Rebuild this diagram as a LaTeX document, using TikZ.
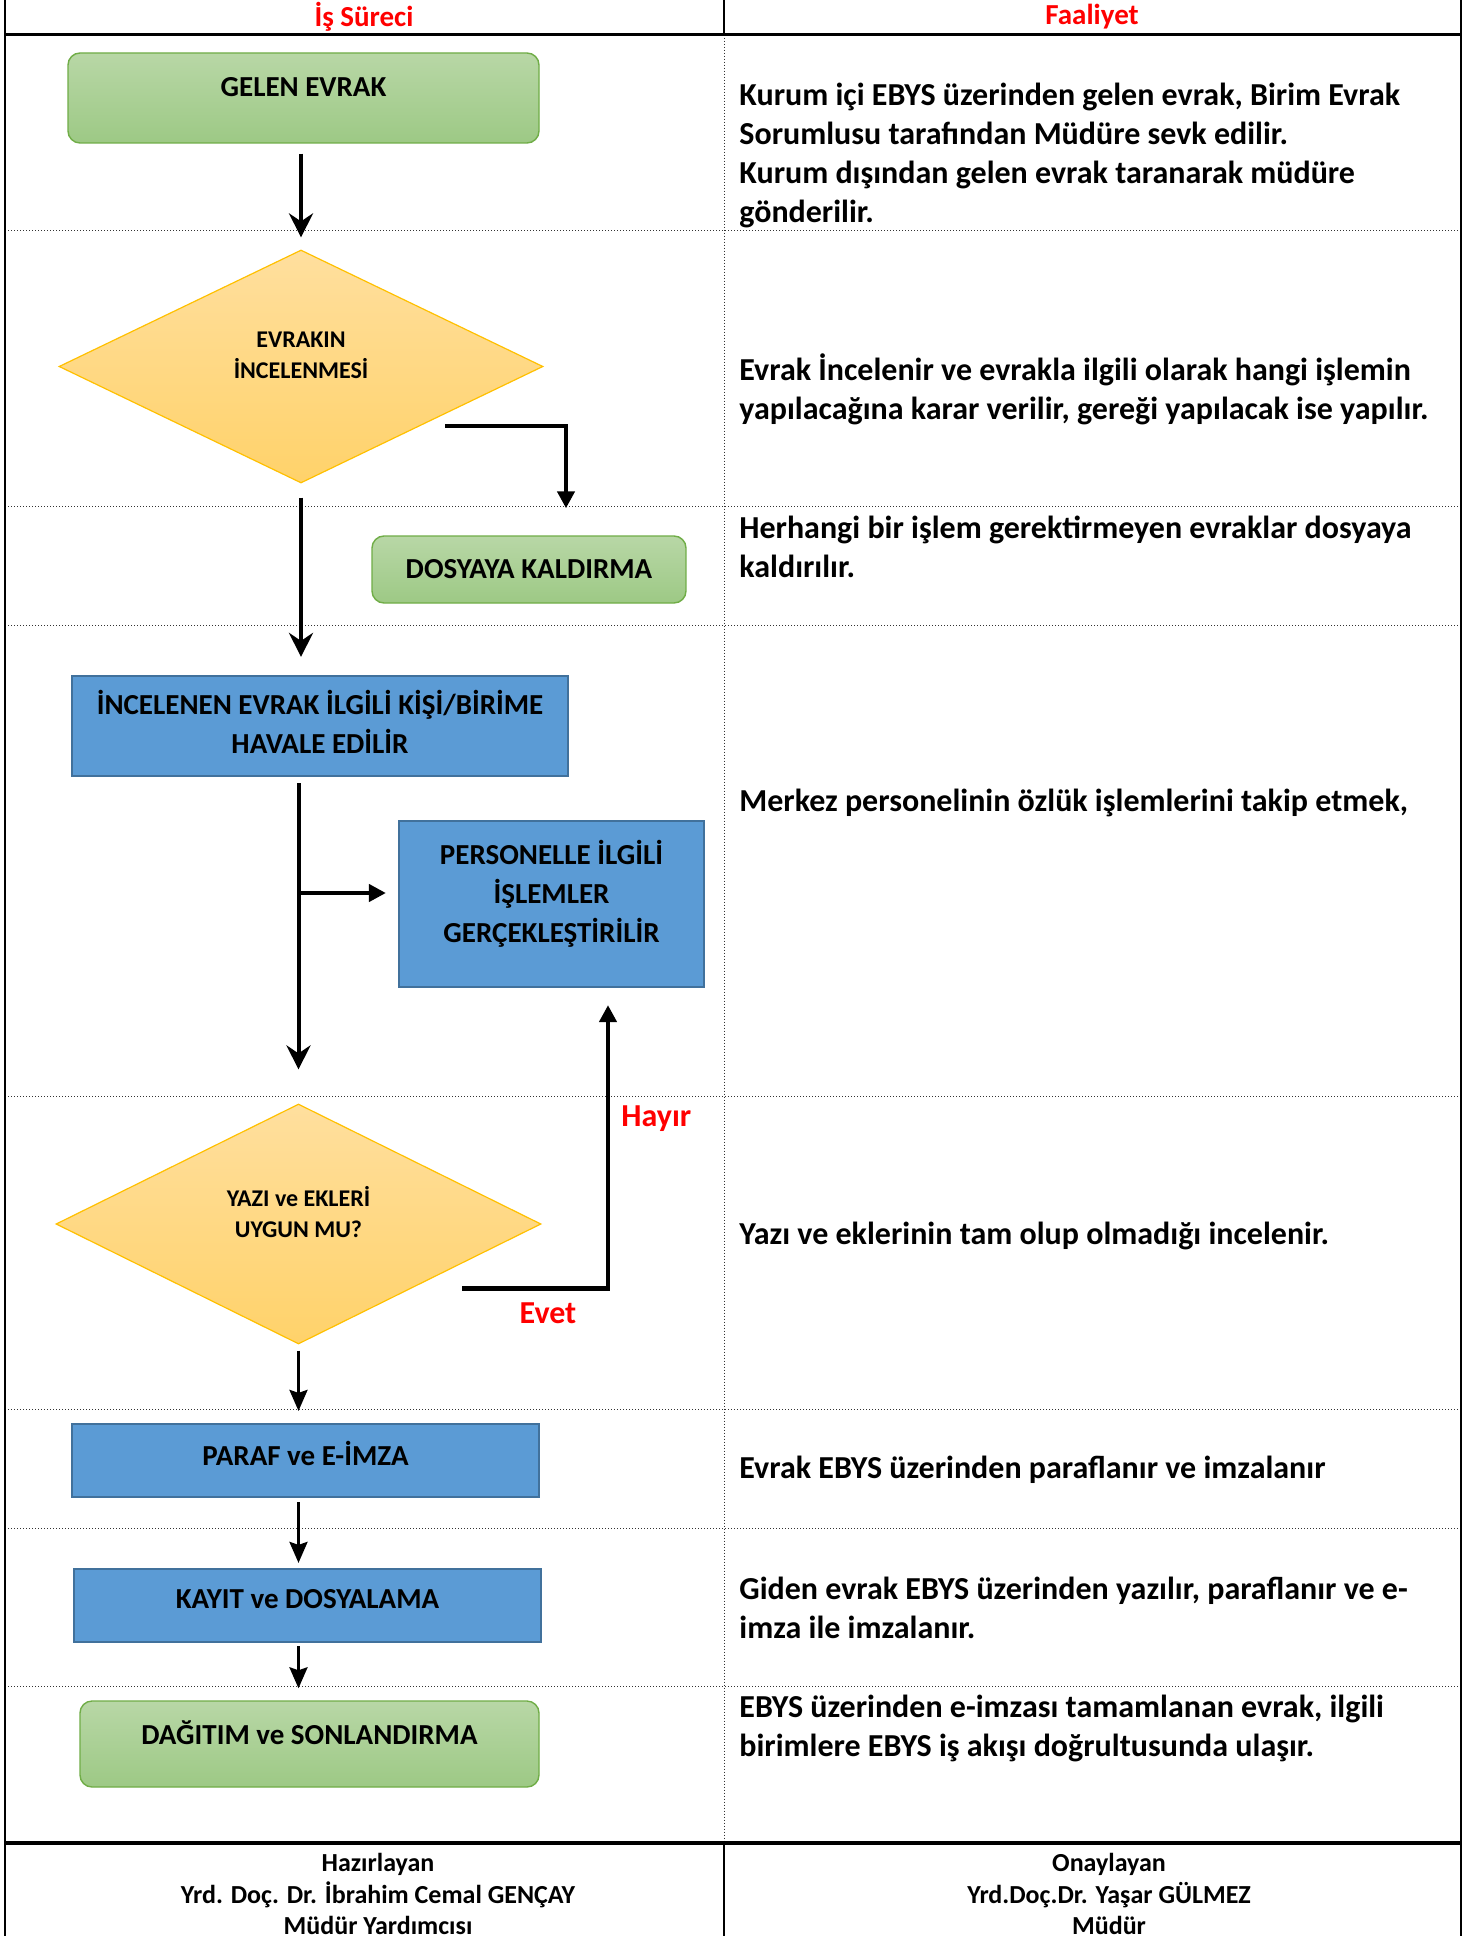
\documentclass[tikz,border=0pt]{standalone}
\usepackage{fontspec}
\setmainfont{Carlito}
\usetikzlibrary{shapes.geometric,arrows.meta,calc}
\definecolor{greentop}{RGB}{184,215,166}
\definecolor{greenbot}{RGB}{157,201,133}
\definecolor{greenline}{RGB}{112,173,71}
\definecolor{goldtop}{RGB}{255,223,158}
\definecolor{goldbot}{RGB}{255,210,106}
\definecolor{goldline}{RGB}{255,192,0}
\definecolor{boxblue}{RGB}{91,155,213}
\definecolor{blueline}{RGB}{65,113,156}
\definecolor{labelred}{RGB}{255,0,0}

\begin{document}
\begin{tikzpicture}
	[x=1pt,y=-1pt%
	,frame/.style={line width=1.2pt}%
	,sepline/.style={densely dotted,line width=0.5pt,black!80}%
	,greenbox/.style={rounded corners=6pt,%
		top color=greentop,bottom color=greenbot,%
		draw=greenline,line width=0.7pt,inner sep=0pt,%
		font=\fontsize{14.5}{19.5}\selectfont\bfseries}%
	,bluebox/.style={fill=boxblue,draw=blueline,line width=1.1pt,%
		inner sep=0pt,align=center,%
		font=\fontsize{14.5}{19.5}\selectfont\bfseries}%
	,decision/.style={diamond,top color=goldtop,bottom color=goldbot,%
		draw=goldline,line width=0.6pt,inner sep=0pt}%
	,boxtext/.style={inner sep=0pt,align=center,%
		font=\fontsize{14.5}{19.5}\selectfont\bfseries}%
	,decisiontext/.style={inner sep=0pt,align=center,%
		font=\fontsize{12}{15.5}\selectfont\bfseries}%
	,headtext/.style={inner sep=0pt,text=labelred,%
		font=\fontsize{14.5}{17}\selectfont\bfseries}%
	,redlabel/.style={inner sep=0pt,text=labelred,%
		font=\fontsize{16}{19.5}\selectfont\bfseries}%
	,desc/.style={anchor=west,align=left,inner sep=0pt,%
		font=\fontsize{16}{19.5}\selectfont\bfseries}%
	,foot/.style={align=center,inner sep=0pt,%
		font=\fontsize{13}{15.75}\selectfont\bfseries}%
	,mainarrow/.style={line width=2pt,-{Stealth[length=12pt,width=12pt,inset=4pt]}}%
	,elbowarrow/.style={line width=2.2pt,-{Triangle[length=8.5pt,width=8.5pt]}}%
	,smallarrow/.style={line width=1.5pt,-{Stealth[length=10.5pt,width=9pt,inset=1.5pt]}}]
	% page and table
	\fill[white] (0,0) rectangle (740.5,968);
	\useasboundingbox (0,0) rectangle (740.5,968);
	\draw[sepline] (362,17.3) -- (362,921.5);
	\draw[sepline] (2.5,115.5) -- (730.5,115.5)
		(2.5,253) -- (730.5,253)
		(2.5,312.5) -- (730.5,312.5)
		(2.5,548) -- (730.5,548)
		(2.5,704.5) -- (730.5,704.5)
		(2.5,764) -- (730.5,764)
		(2.5,843) -- (730.5,843);
	\draw[frame] (2.5,0) -- (2.5,968);
	\draw[frame] (730.5,0) -- (730.5,968);
	\draw[frame] (2.5,17.3) -- (730.5,17.3);
	\draw[frame] (362,0) -- (362,17.3);
	\draw[frame,line width=1.8pt] (2.5,921.5) -- (730.5,921.5);
	\draw[frame] (362,921.5) -- (362,968);
	\node[headtext] (surec) at (182,8.5) {İş Süreci};
	\node[headtext] (faaliyet) at (546,8.5) {Faaliyet};
	% flow
	\node[greenbox,minimum width=235.5pt,minimum height=45pt] (gelen) at (151.75,49) {};
	\node[boxtext] (gelen-t) at ([yshift=5.5pt]gelen.center) {GELEN EVRAK};
	\node[decision,minimum width=242pt,minimum height=116.5pt] (evrakin) at (150.5,183.25) {};
	\node[decisiontext] (evrakin-t) at ([yshift=5.5pt]evrakin.center) {EVRAKIN\\İNCELENMESİ};
	\node[greenbox,minimum width=157pt,minimum height=33.5pt] (dosya) at (264.5,284.75) {DOSYAYA KALDIRMA};
	\node[bluebox,minimum width=248pt,minimum height=50pt] (incelenen) at (160,363) {};
	\node[boxtext] (incelenen-t) at ([yshift=2pt]incelenen.center) {İNCELENEN EVRAK İLGİLİ KİŞİ/BİRİME\\HAVALE EDİLİR};
	\node[bluebox,minimum width=152.5pt,minimum height=83pt] (personel) at (275.75,452) {};
	\node[boxtext] (personel-t) at ([yshift=5pt]personel.center) {PERSONELLE İLGİLİ\\İŞLEMLER\\GERÇEKLEŞTİRİLİR};
	\node[decision,minimum width=242.5pt,minimum height=120pt] (yazi) at (149.25,612) {};
	\node[decisiontext] (yazi-t) at ([yshift=6pt]yazi.center) {YAZI ve EKLERİ\\UYGUN MU?};
	\node[bluebox,minimum width=233.5pt,minimum height=36.5pt] (paraf) at (152.75,730.25) {};
	\node[boxtext] (paraf-t) at ([yshift=3.5pt]paraf.center) {PARAF ve E-İMZA};
	\node[bluebox,minimum width=233.5pt,minimum height=36.5pt] (kayit) at (153.75,802.75) {};
	\node[boxtext] (kayit-t) at ([yshift=3pt]kayit.center) {KAYIT ve DOSYALAMA};
	\node[greenbox,minimum width=229.5pt,minimum height=43pt] (dagitim) at (154.75,872) {};
	\node[boxtext] (dagitim-t) at ([yshift=5.5pt]dagitim.center) {DAĞITIM ve SONLANDIRMA};
	% connectors
	\draw[mainarrow,shorten <=5pt,shorten >=6pt] (evrakin.north |- gelen.south) -- (evrakin.north);
	\coordinate (evrakin-out) at ($(evrakin.east)!0.405!(evrakin.south) + (0,6)$);
	\draw[elbowarrow,shorten >=13.5pt] (evrakin-out) -| ([xshift=18.5pt]dosya.north);
	\draw[mainarrow,shorten <=7pt,shorten >=9pt] (evrakin.south) -- (evrakin.south |- incelenen.north);
	\draw[mainarrow,shorten <=3pt,shorten >=17pt] (yazi.north |- incelenen.south) -- (yazi.north);
	\coordinate (split) at ($(yazi.north |- personel.west) + (0,-5.5)$);
	\draw[elbowarrow,shorten >=6pt] (split) -- (split -| personel.west);
	\coordinate (yazi-out) at ($(yazi.east)!0.326!(yazi.south) + (0,12.5)$);
	\draw[elbowarrow,shorten >=8.5pt] (yazi-out) -| ([xshift=28.25pt]personel.south);
	\node[redlabel,anchor=west] (hayir) at (310.5,559.5) {Hayır};
	\node[redlabel] (evet) at (274,656.5) {Evet};
	\draw[smallarrow,shorten <=3pt,shorten >=6pt] (yazi.south) -- (yazi.south |- paraf.north);
	\draw[smallarrow,shorten <=2pt,shorten >=2.5pt] (yazi.south |- paraf.south) -- (yazi.south |- kayit.north);
	\draw[smallarrow,shorten <=1.5pt,shorten >=6pt] (yazi.south |- kayit.south) -- (yazi.south |- dagitim.north);
	% activity column
	\node[desc] (d-gelen) at (369.5,77.5) {Kurum içi EBYS üzerinden gelen evrak, Birim Evrak\\Sorumlusu tarafından Müdüre sevk edilir.\\Kurum dışından gelen evrak taranarak müdüre\\gönderilir.};
	\node[desc] (d-evrakin) at (369.5,194.5) {Evrak İncelenir ve evrakla ilgili olarak hangi işlemin\\yapılacağına karar verilir, gereği yapılacak ise yapılır.};
	\node[desc] (d-dosya) at (369.5,273.25) {Herhangi bir işlem gerektirmeyen evraklar dosyaya\\kaldırılır.};
	\node[desc] (d-personel) at (369.5,401.5) {Merkez personelinin özlük işlemlerini takip etmek,};
	\node[desc] (d-yazi) at (369.5,618) {Yazı ve eklerinin tam olup olmadığı incelenir.};
	\node[desc] (d-paraf) at (369.5,735) {Evrak EBYS üzerinden paraflanır ve imzalanır};
	\node[desc] (d-kayit) at (369.5,804) {Giden evrak EBYS üzerinden yazılır, paraflanır ve e-\\imza ile imzalanır.};
	\node[desc] (d-dagitim) at (369.5,864) {EBYS üzerinden e-imzası tamamlanan evrak, ilgili\\birimlere EBYS iş akışı doğrultusunda ulaşır.};
	% signatures
	\node[foot] (hazirlayan) at (189,947) {Hazırlayan\\Yrd. Doç. Dr. İbrahim Cemal GENÇAY\\Müdür Yardımcısı};
	\node[foot] (onaylayan) at (554.5,947) {Onaylayan\\Yrd.Doç.Dr. Yaşar GÜLMEZ\\Müdür};
\end{tikzpicture}
\end{document}
